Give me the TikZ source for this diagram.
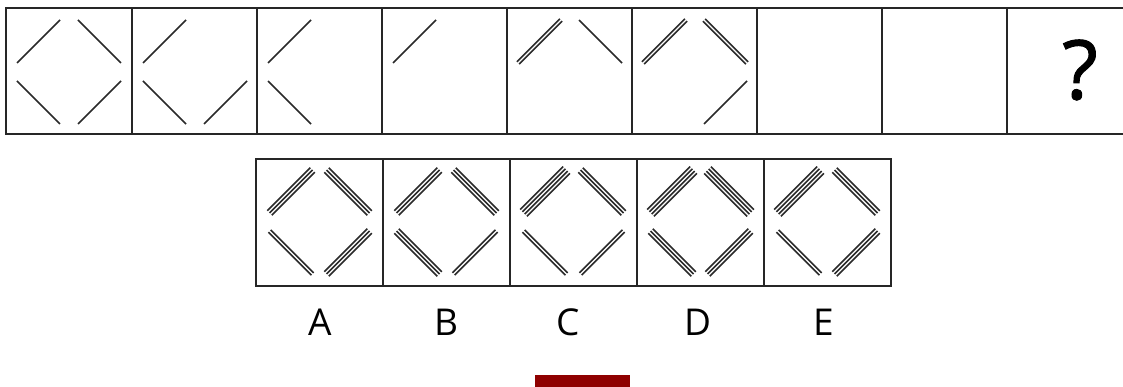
\documentclass[tikz,border=0pt]{standalone}
\usepackage{fontspec}
\setmainfont{Open Sans}
\newfontface\qfont{Open Sans}[FakeBold=1.3]
\definecolor{barred}{HTML}{8F0000}
\definecolor{inkc}{HTML}{2A2A2A}
% bundle of #7 parallel lines from (#1,#2) to (#3,#4), normal (#5,#6)
\newcommand\bund[7]{\ifnum#7>0 \foreach \k in {1,...,#7}{%
  \pgfmathsetmacro\offd{(\k-(#7+1)/2)*3.2}%
  \pgfmathsetmacro\ddx{(#5)*(\offd)}%
  \pgfmathsetmacro\ddy{(#6)*(\offd)}%
  \draw[seg] ({#1+(\ddx)},{#2+(\ddy)}) -- ({#3+(\ddx)},{#4+(\ddy)});}\fi}
% cell: centre (#1,#2), half-extents h=#3, v=#4, counts TL TR BL BR
\newcommand\cellq[8]{%
 \bund{#1-#3}{#2-#4+43}{#1-#3+43}{#2-#4}{0.7071}{0.7071}{#5}%
 \bund{#1+#3-43}{#2-#4}{#1+#3}{#2-#4+43}{0.7071}{-0.7071}{#6}%
 \bund{#1-#3}{#2+#4-43}{#1-#3+43}{#2+#4}{0.7071}{-0.7071}{#7}%
 \bund{#1+#3-43}{#2+#4}{#1+#3}{#2+#4-43}{0.7071}{0.7071}{#8}}
\begin{document}
\begin{tikzpicture}[x=1pt,y=-1pt,
  seg/.style={line width=1.5pt,draw=inkc},
  frame/.style={line width=1.7pt,draw=black!85},
  lab/.style={font=\fontsize{37}{40}\selectfont,inner sep=0pt}]
\useasboundingbox (0,0) rectangle (1123,387);
\clip (0,0) rectangle (1123,387);
\fill[white] (0,0) rectangle (1123,387);
% top row frames
\draw[frame] (6,8) rectangle (132,134);
\foreach \i in {0,...,7}{\draw[frame] (132+125*\i,8) rectangle ++(125,126);}
% top row figures
\cellq{69}{72}{52}{52}{1}{1}{1}{1}
\cellq{195}{72}{52}{52}{1}{0}{1}{1}
\cellq{320}{72}{52}{52}{1}{0}{1}{0}
\cellq{445}{72}{52}{52}{1}{0}{0}{0}
\cellq{570}{72}{52}{52}{2}{1}{0}{0}
\cellq{695}{72}{52}{52}{2}{2}{0}{1}
\node[inner sep=0pt,font=\fontsize{82}{82}\qfont] (q) at (1080,70) {?};
% answer frames
\foreach \i in {0,...,4}{\draw[frame] (256+127*\i,159) rectangle ++(127,127);}
% answer figures
\cellq{319.5}{222}{50}{52}{3}{3}{2}{3}
\cellq{446.5}{222}{50}{52}{3}{3}{3}{2}
\cellq{573.5}{222}{50}{52}{4}{3}{2}{2}
\cellq{700.5}{222}{50}{52}{4}{4}{3}{3}
\cellq{827.5}{222}{50}{52}{4}{3}{2}{3}
% labels
\node[lab] (labA) at (320,322) {A};
\node[lab] (labB) at (446,322) {B};
\node[lab] (labC) at (568,322) {C};
\node[lab] (labD) at (698,322) {D};
\node[lab] (labE) at (824,322) {E};
% red bar
\fill[barred] (535,375) rectangle (630,387);
\end{tikzpicture}
\end{document}
